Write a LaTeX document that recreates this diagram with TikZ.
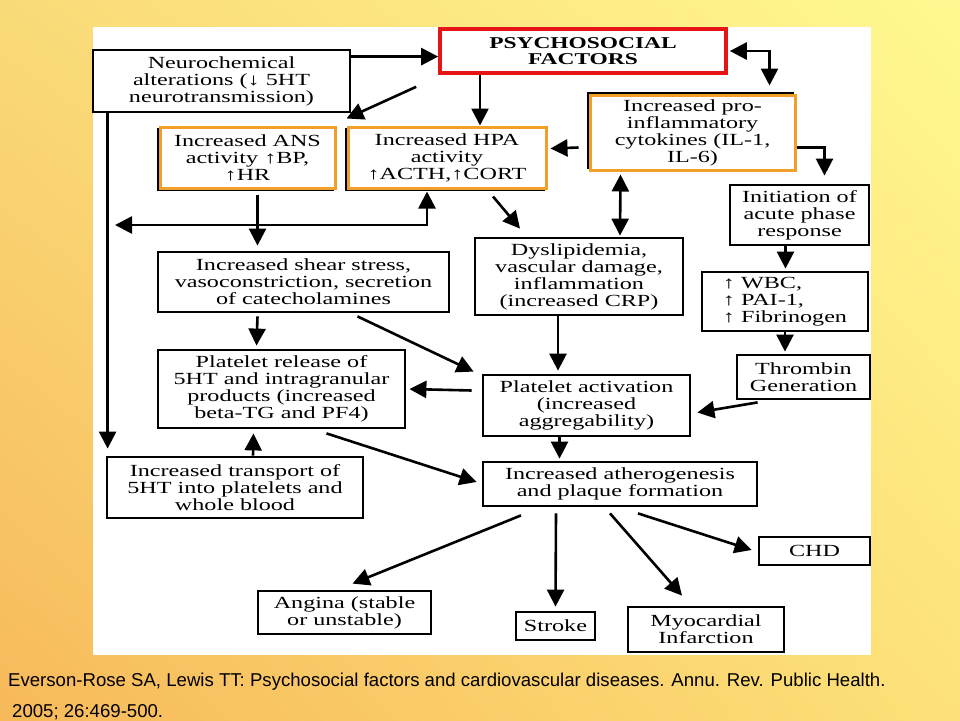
\documentclass[tikz,border=0pt]{standalone}
\usepackage{fontspec}
\newfontfamily\boxfont[FakeStretch=1.42]{Liberation Serif}
\newfontfamily\citefont{Liberation Sans}
\usetikzlibrary{arrows.meta,shadows,shadings,calc}
\definecolor{boxorange}{RGB}{240,160,40}
\definecolor{boxred}{RGB}{230,20,20}
\definecolor{bgul}{RGB}{250,218,120}
\definecolor{bgur}{RGB}{255,248,145}
\definecolor{bgll}{RGB}{247,185,90}
\definecolor{bglr}{RGB}{253,225,120}
\tikzset{
	box/.style={draw, line width=2.8pt, fill=white, align=center, inner sep=0pt,
		font=\fontsize{17pt}{17pt}\boxfont},
	hotbox/.style={box, draw=boxorange, line width=3pt,
		general shadow={draw=black, fill=black, line width=2pt, shadow xshift=-2pt, shadow yshift=#1}},
	hotbox/.default=-2pt,
	redbox/.style={box, draw=boxred, line width=3.6pt, font=\fontsize{16.5pt}{16pt}\boxfont\bfseries},
}
\begin{document}
\begin{tikzpicture}[x=1pt,y=-1pt]
		\useasboundingbox (0,0) rectangle (960,720);
		\shade[upper left=bgul, upper right=bgur, lower left=bgll, lower right=bglr] (0,0) rectangle (960,720);
		\fill[white] (93,27) rectangle (871,655);

		\begin{scope}[every node/.style={box}]
			\node[redbox, minimum width=286, minimum height=44] (psycho) at (583,51) {PSYCHOSOCIAL\\FACTORS};
			\node[minimum width=257, minimum height=62] (neuro) at (221.5,81) {Neurochemical\\alterations (↓ 5HT\\neurotransmission)};
			\node[hotbox, minimum width=175, minimum height=61] (ans) at (247.5,157.5) {Increased ANS\\activity ↑BP,\\↑HR};
			\node[hotbox, minimum width=198, minimum height=61] (hpa) at (447,157.5) {Increased HPA\\activity\\↑ACTH,↑CORT};
			\node[hotbox=2pt, minimum width=205, minimum height=75] (cyto) at (692.5,132.5) {Increased pro-\\inflammatory\\cytokines (IL-1,\\IL-6)};
			\node[minimum width=139, minimum height=60] (init) at (799.5,215) {Initiation of\\acute phase\\response};
			\node[minimum width=291, minimum height=60] (shear) at (303.5,282) {Increased shear stress,\\vasoconstriction, secretion\\of catecholamines};
			\node[minimum width=208, minimum height=77] (dysl) at (579,276.5) {Dyslipidemia,\\vascular damage,\\inflammation\\(increased CRP)};
			\node[align=left, minimum width=166, minimum height=59] (wbc) at (785,301.5) {↑ WBC,\\↑ PAI-1,\\↑ Fibrinogen};
			\node[minimum width=133, minimum height=44] (thrombin) at (803.5,377) {Thrombin\\Generation};
			\node[minimum width=247, minimum height=78] (release) at (281.5,389) {Platelet release of\\5HT and intragranular\\products (increased\\beta-TG and PF4)};
			\node[minimum width=207, minimum height=61] (act) at (586.5,405.5) {Platelet activation\\(increased\\aggregability)};
			\node[minimum width=256, minimum height=61] (transport) at (235,487.5) {Increased transport of\\5HT into platelets and\\whole blood};
			\node[minimum width=274, minimum height=44] (ather) at (620,484) {Increased atherogenesis\\and plaque formation};
			\node[minimum width=111, minimum height=28] (chd) at (814.5,551) {CHD};
			\node[minimum width=173, minimum height=43] (angina) at (344.5,612.5) {Angina (stable\\or unstable)};
			\node[minimum width=79, minimum height=28] (stroke) at (555.5,626) {Stroke};
			\node[minimum width=156, minimum height=45] (mi) at (706,629.5) {Myocardial\\Infarction};
		\end{scope}

		\coordinate (leftend) at (115,225);

		\begin{scope}[>={Triangle[length=17pt,width=17pt]}, line width=2.6pt]
			\draw[->] ([yshift=-8pt]neuro.north east) -- ([yshift=-8pt]neuro.north east -| psycho.west);
			\draw[->] ([xshift=-22pt,yshift=-12pt]psycho.south west) -- ([xshift=10pt,yshift=7pt]ans.north east);
			\draw[->] ([xshift=33pt]hpa.north |- psycho.south) -- ([xshift=33pt]hpa.north);
			\draw[<->] ([xshift=2pt]psycho.east) -| ([xshift=77pt,yshift=8pt]cyto.north);
			\draw[->] ([xshift=-10pt,yshift=-15pt]cyto.west) -- ([xshift=3pt,yshift=9pt]hpa.east);
			\draw[->] ([yshift=-15pt]cyto.east) -| ([xshift=25pt,yshift=8pt]init.north);
			\draw[<->] ([xshift=-72pt,yshift=-3pt]cyto.south) -- ([xshift=41pt,yshift=1pt]dysl.north);
			\draw[->] ([xshift=46pt,yshift=-7pt]hpa.south) -- ([xshift=-59pt,yshift=8pt]dysl.north);
			\draw[->] ([xshift=10pt,yshift=-5pt]ans.south) -- ([xshift=10pt,yshift=5pt]ans.south |- shear.north);
			\draw[<->] ([xshift=-20pt,yshift=-2pt]hpa.south) |- (leftend);
			\draw[->] ([xshift=16pt]neuro.south west) -- ([xshift=2pt,yshift=7pt]transport.north west);
			\draw[->] ([xshift=-46pt,yshift=-3pt]shear.south) -- ([xshift=-25pt,yshift=3pt]release.north);
			\draw[->] ([xshift=54pt,yshift=-3pt]shear.south) -- ([xshift=-8pt,yshift=2pt]act.north west);
			\draw[->] ([xshift=-21pt]dysl.south) -- ([xshift=-21pt,yshift=3pt]dysl.south |- act.north);
			\draw[->] ([xshift=-14pt]init.south) -- ([xshift=-14pt,yshift=2pt]init.south |- wbc.north);
			\draw[->] (wbc.south) -- ([yshift=2pt]wbc.south |- thrombin.north);
			\draw[->] ([xshift=22pt,yshift=-2pt]thrombin.south west) -- ([xshift=6pt,yshift=-7pt]act.east);
			\draw[->] ([xshift=-10pt,yshift=15pt]act.west) -- ([xshift=3pt]release.east);
			\draw[->] ([xshift=18pt]transport.north) -- ([xshift=-28pt,yshift=-4pt]release.south);
			\draw[->] ([xshift=45pt,yshift=-4pt]release.south) -- ([xshift=-5pt,yshift=2pt]ather.west);
			\draw[->] ([xshift=-27pt]act.south) -- ([xshift=-27pt,yshift=2pt]act.south |- ather.north);
			\draw[->] ([xshift=-99pt,yshift=-8pt]ather.south) -- ([xshift=8pt,yshift=6pt]angina.north);
			\draw[->] ([xshift=-64pt,yshift=-6pt]ather.south) -- ([yshift=4pt]stroke.north);
			\draw[->] ([xshift=-10pt,yshift=-6pt]ather.south) -- ([xshift=-24pt,yshift=10pt]mi.north);
			\draw[->] ([xshift=18pt,yshift=-6pt]ather.south) -- ([xshift=-6pt,yshift=1pt]chd.west);
		\end{scope}

		\begin{scope}[every node/.style={anchor=base west, inner sep=0pt, font=\fontsize{18.6pt}{20pt}\citefont}]
			\node (cite) at (8,686) {Everson-Rose SA, Lewis TT: Psychosocial factors and cardiovascular diseases. Annu. Rev. Public Health.};
			\node (citeyear) at (12,717) {2005; 26:469-500.};
		\end{scope}
	\end{tikzpicture}
\end{document}
